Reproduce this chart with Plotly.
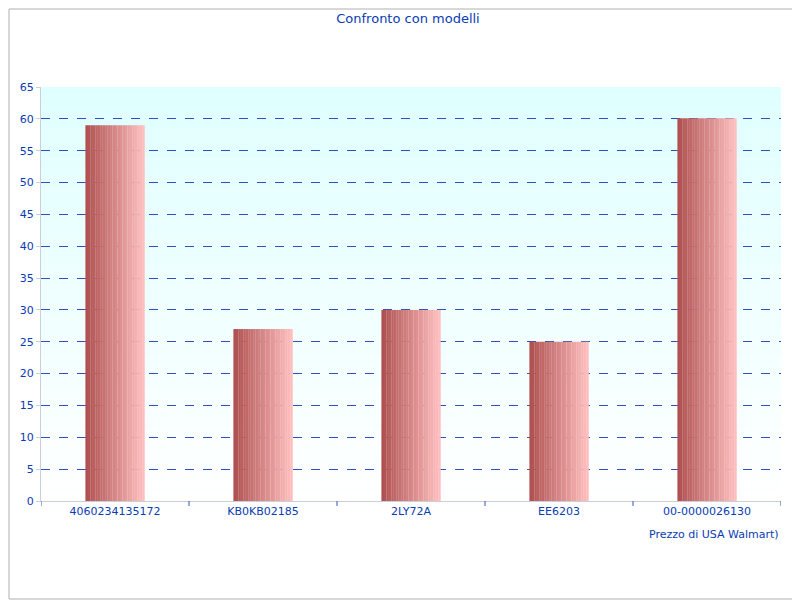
import plotly.graph_objects as go

categories = ["4060234135172", "KB0KB02185", "2LY72A", "EE6203", "00-0000026130"]
prices = [59, 27, 30, 25, 60.1]
series_name = "Prezzo di USA Walmart)"
title = "Confronto con modelli"

blue = "#0a3cb4"
fig = go.Figure()
xs = list(range(len(categories)))
n = 24
bw = 0.4
c0 = (176, 80, 80); c1 = (255, 190, 190)
for i in range(n):
    t = i / (n - 1)
    col = "rgb(%d,%d,%d)" % tuple(int(a + (b - a) * t) for a, b in zip(c0, c1))
    fig.add_trace(go.Bar(x=xs, y=prices, width=bw / n * 1.05, offset=-bw / 2 + i * bw / n,
                         marker=dict(color=col, line=dict(width=0)), showlegend=False, hoverinfo="skip"))

L, R, T, B = 33, 27, 79, 107
W, H = 800 - L - R, 600 - T - B
shapes = []
m = 40
for k in range(m):
    t = k / (m - 1)
    g = (255, int(255 - 31 * t), 255)
    shapes.append(dict(type="rect", xref="x domain", yref="y domain", x0=0, x1=1,
                       y0=k / m, y1=(k + 1) / m, layer="below", line=dict(width=0),
                       fillcolor="rgb(%d,%d,%d)" % (int(255 - 31 * t), 255, 255)))
shapes.append(dict(type="rect", xref="paper", yref="paper", x0=(-L + 1) / W, x1=(800 - L - 9) / W,
                   y0=(-B + 9) / H, y1=(600 - B - 1) / H, line=dict(color="#b0b0b0", width=1)))
shapes += [dict(type="line", x0=b, x1=b, xref="x", yref="paper", y0=0, y1=-0.012,
                line=dict(color="#3050c0", width=1)) for b in [-0.5, 0.5, 1.5, 2.5, 3.5, 4.5]]

fig.update_layout(
    width=800, height=600, barmode="overlay", paper_bgcolor="white", plot_bgcolor="rgba(0,0,0,0)",
    margin=dict(l=L, r=R, t=T, b=B),
    title=dict(text=title, x=0.5, xanchor="center", y=0.99, font=dict(size=13, color=blue)),
    font=dict(family="DejaVu Sans", size=11, color=blue),
    xaxis=dict(range=[-0.5, 4.5], tickvals=xs, ticktext=categories, showgrid=False,
               showline=True, linecolor="#c8d0dc", ticks="", zeroline=False),
    yaxis=dict(range=[0, 65], dtick=5, showgrid=True, gridcolor="#3050c0", griddash="dash",
               gridwidth=1, showline=True, linecolor="#c8d0dc", zeroline=False,
               ticks="outside", ticklen=4, tickcolor="#c8d0dc", layer="above traces"),
    shapes=shapes,
    annotations=[dict(text=series_name, xref="paper", yref="paper", x=1.0, y=-0.06,
                      xanchor="right", yanchor="top", showarrow=False, font=dict(size=11, color=blue))],
)
fig.write_html("out.html")
